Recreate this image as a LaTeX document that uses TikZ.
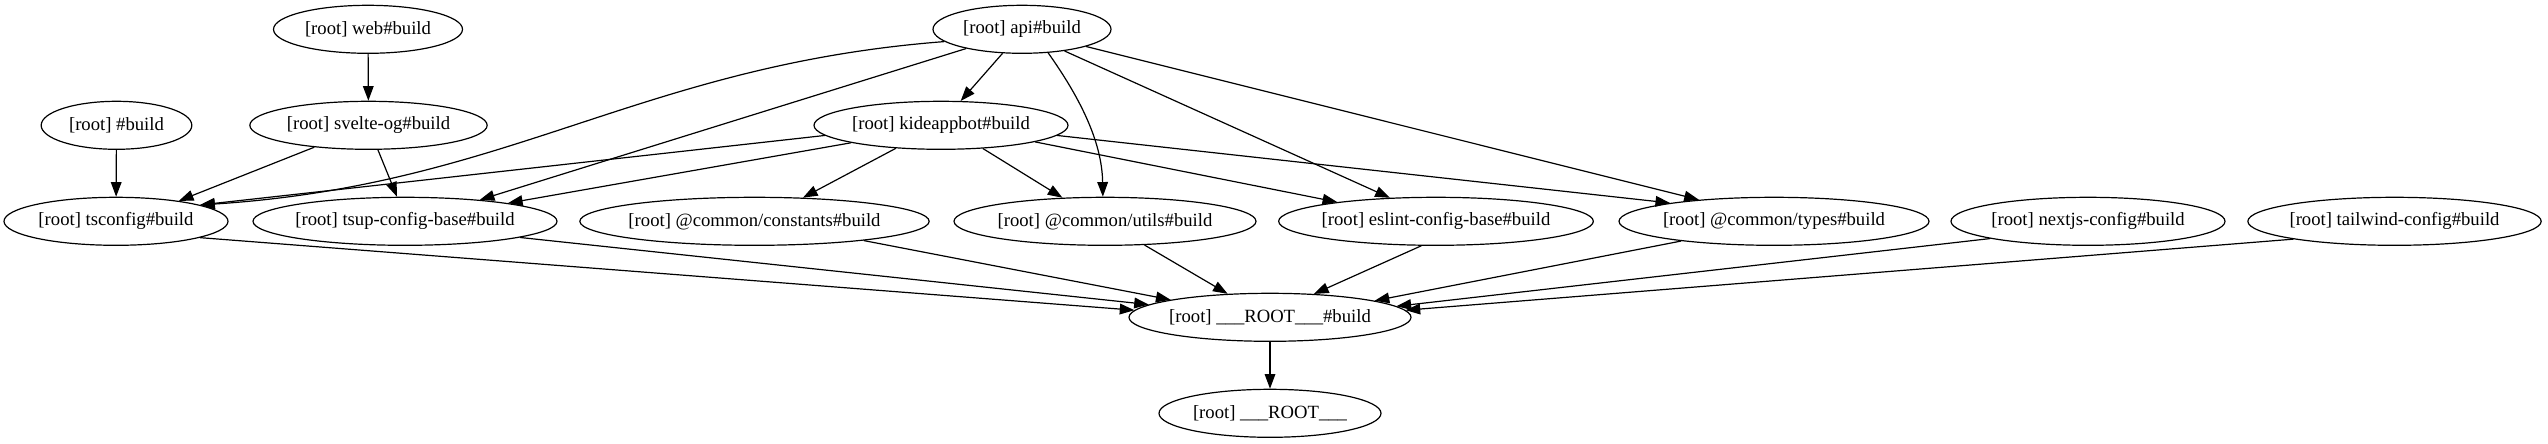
\documentclass[tikz,border=0pt]{standalone}
\usepackage{fontspec}
\setmainfont{Liberation Serif}
\usetikzlibrary{shapes.geometric,arrows.meta}
\begin{document}
\begin{tikzpicture}[x=0.75pt,y=-0.75pt,
  task/.style={draw,ellipse,line width=0.9pt,minimum height=36pt,inner xsep=-40pt,inner ysep=0pt,font=\fontsize{14}{16}\selectfont},
  dep/.style={draw,line width=0.9pt,-{Triangle[length=11pt,width=8pt]}}]
\useasboundingbox (0,0) rectangle (2548,443);
% row 1
\node[task,minimum width=141.75pt] (web) at (368,29.3) {[root] web\#build};
\node[task,minimum width=133.5pt] (api) at (1022,29.3) {[root] api\#build};
% row 2
\node[task,minimum width=113pt] (hash) at (116.5,125.3) {[root] \#build};
\node[task,minimum width=178pt] (svelte) at (368.5,125.3) {[root] svelte-og\#build};
\node[task,minimum width=190.5pt] (kide) at (941,125.3) {[root] kideappbot\#build};
% row 3
\node[task,minimum width=168pt] (tsconfig) at (116,221.3) {[root] tsconfig\#build};
\node[task,minimum width=228pt] (tsup) at (405,221.3) {[root] tsup-config-base\#build};
\node[task,minimum width=262pt] (constants) at (754.5,221.3) {[root] @common/constants\#build};
\node[task,minimum width=226.5pt] (utils) at (1105,221.3) {[root] @common/utils\#build};
\node[task,minimum width=236pt] (eslint) at (1436,221.3) {[root] eslint-config-base\#build};
\node[task,minimum width=232.5pt] (types) at (1774,221.3) {[root] @common/types\#build};
\node[task,minimum width=205.5pt] (nextjs) at (2088,221.3) {[root] nextjs-config\#build};
\node[task,minimum width=220pt] (tailwind) at (2394.5,221.3) {[root] tailwind-config\#build};
% row 4, 5
\node[task,minimum width=211.5pt] (rootb) at (1270,317.3) {[root] \_\_\_ROOT\_\_\_\#build};
\node[task,minimum width=166.5pt] (root) at (1270,413.3) {[root] \_\_\_ROOT\_\_\_};
% edges
\draw[dep] (web) -- (svelte);
\draw[dep] (hash) -- (tsconfig);
\draw[dep] (svelte.-158.4) -- (tsconfig.18.4);
\draw[dep] (svelte.-69) -- (tsup.108.4);
\draw[dep] (api.-129.8) -- (kide.51.3);
\draw[dep] (api.-171) .. controls (640,65) and (510,185) .. (tsconfig.11.3);
\draw[dep] (api.-161.9) -- (tsup.16.3);
\draw[dep] (api.-42.6) .. controls (1078,95) and (1102,140) .. (utils.95);
\draw[dep] (api.-27.1) -- (eslint.153);
\draw[dep] (api.-15.5) -- (types.164.5);
\draw[dep] (kide.-175.2) -- (tsconfig.11);
\draw[dep] (kide.-169.5) -- (tsup.10.3);
\draw[dep] (kide.-153.4) -- (constants.26.8);
\draw[dep] (kide.-29.9) -- (utils.151.4);
\draw[dep] (kide.-10.8) -- (eslint.169.1);
\draw[dep] (kide.-5.7) -- (types.170.9);
\draw[dep] (tsconfig.-11.6) -- (rootb.177.9);
\draw[dep] (tsup.-8.4) -- (rootb.174.4);
\draw[dep] (constants.-10.4) -- (rootb.170);
\draw[dep] (utils.-31) -- (rootb.151.4);
\draw[dep] (eslint.-121.6) -- (rootb.28.6);
\draw[dep] (types.-168.9) -- (rootb.9.8);
\draw[dep] (nextjs.-170) -- (rootb.5.4);
\draw[dep] (tailwind.-170.5) -- (rootb.3.8);
\draw[dep] (rootb) -- (root);
\end{tikzpicture}
\end{document}
